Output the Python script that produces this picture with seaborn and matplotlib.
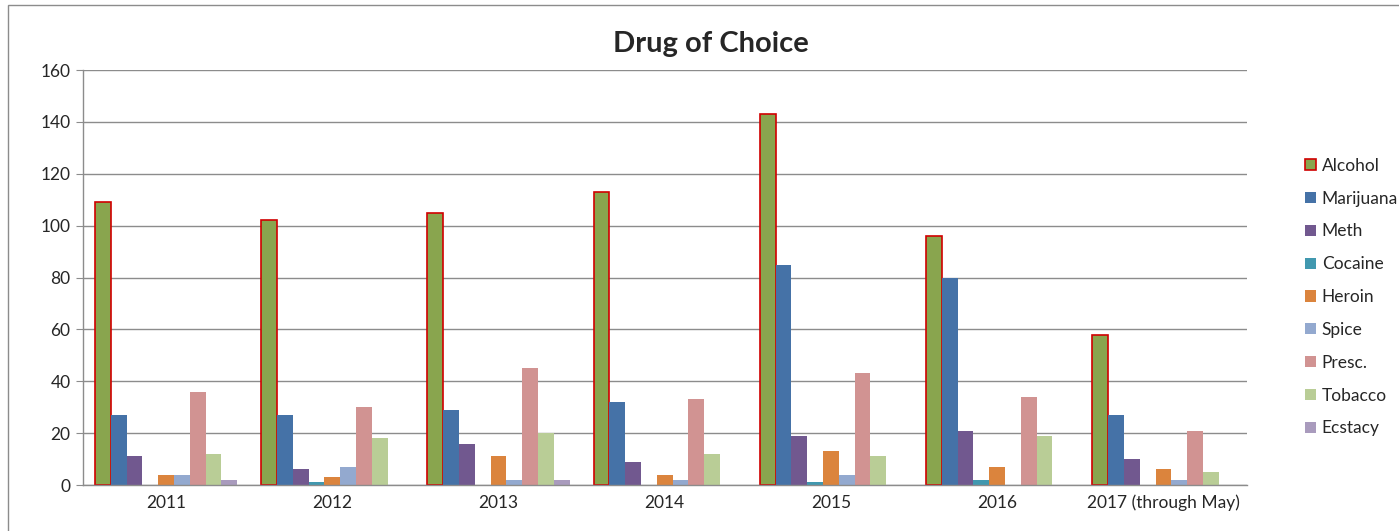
import pandas as pd
import matplotlib
matplotlib.use("Agg")
import matplotlib.pyplot as plt
import seaborn as sns
from matplotlib.patches import Patch, Rectangle

# ---------------------------
# Data
# ---------------------------
years = ["2011", "2012", "2013", "2014", "2015", "2016", "2017 (through May)"]
drugs = ["Alcohol", "Marijuana", "Meth", "Cocaine", "Heroin",
         "Spice", "Presc.", "Tobacco", "Ecstacy"]

alcohol = [109, 102, 105, 113, 143, 96, 58]
marijuana = [27, 27, 29, 32, 85, 80, 27]
meth = [11, 6, 16, 9, 19, 21, 10]
cocaine = [0, 1, 0, 0, 1, 2, 0]
heroin = [4, 3, 11, 4, 13, 7, 6]
spice = [4, 7, 2, 2, 4, 0, 2]
presc = [36, 30, 45, 33, 43, 34, 21]
tobacco = [12, 18, 20, 12, 11, 19, 5]
ecstacy = [2, 0, 2, 0, 0, 0, 0]

colors = ["#89A54E", "#4572A7", "#71588F", "#4198AF", "#DB843D",
          "#93A9CF", "#D19392", "#B9CD96", "#A99BBD"]

series = [alcohol, marijuana, meth, cocaine, heroin, spice, presc, tobacco, ecstacy]
rows = []
for drug, vals in zip(drugs, series):
    for yr, v in zip(years, vals):
        rows.append({"year": yr, "drug": drug, "count": v})
df = pd.DataFrame(rows)

# ---------------------------
# Plot
# ---------------------------
sns.set_style("white")
plt.rcParams['font.family'] = ['Lato', 'DejaVu Sans']

fig = plt.figure(figsize=(13.99, 5.31), dpi=100)
ax = fig.add_axes([0.0593, 0.0866, 0.8317, 0.7815])

sns.barplot(data=df, x="year", y="count", hue="drug", order=years,
            hue_order=drugs, palette=colors, width=0.855, saturation=1,
            legend=False, ax=ax)

for i, cont in enumerate(ax.containers):
    for bar in cont:
        if i == 0:
            bar.set_edgecolor("#D00000")
            bar.set_linewidth(1.2)
        else:
            bar.set_linewidth(0)

ax.set_ylim(0, 160)
ax.set_xlim(-0.5, len(years) - 0.5)
ax.set_yticks(range(0, 161, 20))
ax.yaxis.grid(True, color="#8C8C8C", linewidth=1)
ax.set_axisbelow(True)
ax.set_xlabel("")
ax.set_ylabel("")

for side in ["top", "right"]:
    ax.spines[side].set_visible(False)
for side in ["left", "bottom"]:
    ax.spines[side].set_color("#8C8C8C")
    ax.spines[side].set_linewidth(1)

ax.set_xticks([x - 0.5 for x in range(len(years) + 1)], minor=True)
ax.tick_params(axis="x", which="major", length=0, labelsize=12.5, pad=7)
ax.tick_params(axis="x", which="minor", length=5, color="#8C8C8C", direction="out")
ax.tick_params(axis="y", length=5, color="#8C8C8C", labelsize=12.5, pad=4,
               direction="out", left=True)

fig.text(0.508, 0.918, "Drug of Choice", ha="center", va="center",
         fontsize=21, fontweight="bold")

handles = []
for i, (d, c) in enumerate(zip(drugs, colors)):
    if i == 0:
        handles.append(Patch(facecolor=c, edgecolor="#D00000", linewidth=1.2, label=d))
    else:
        handles.append(Patch(facecolor=c, edgecolor="none", label=d))
fig.legend(handles=handles, loc="upper left", bbox_to_anchor=(0.928, 0.716),
           frameon=False, fontsize=12.5, handlelength=0.6, handleheight=0.6,
           handletextpad=0.35, labelspacing=0.97, borderaxespad=0)

fig.patches.append(Rectangle((8 / 1399, -0.1), 1.2, 1.1 - 5 / 531,
                             transform=fig.transFigure, fill=False,
                             edgecolor="#8C8C8C", linewidth=1))

fig.savefig("out.png", dpi=100)
